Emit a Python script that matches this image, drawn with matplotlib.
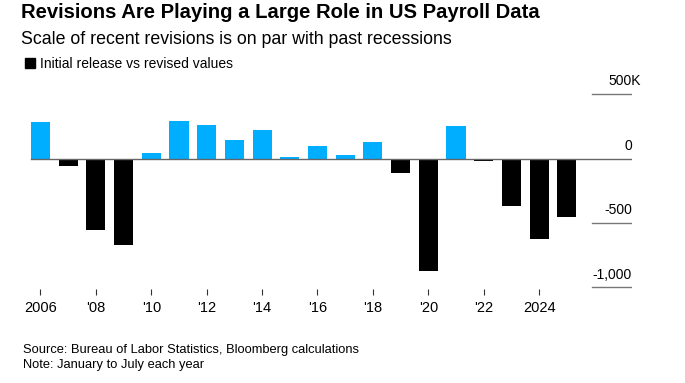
import numpy as np
import matplotlib
matplotlib.use('Agg')
import matplotlib.pyplot as plt
from matplotlib.patches import Rectangle
import matplotlib.transforms as mtransforms

plt.rcParams['font.family'] = ['Liberation Sans', 'DejaVu Sans']

# Initial release vs revised values, January to July, thousands of jobs
years = np.arange(2006, 2026)
revisions = [280, -60, -556, -672, 39, 289, 256, 142, 219, 10,
             95, 26, 126, -116, -873, 250, -21, -367, -626, -457]

tick_years = [2006, 2008, 2010, 2012, 2014, 2016, 2018, 2020, 2022, 2024]
tick_labels = ['2006', "'08", "'10", "'12", "'14", "'16", "'18", "'20", "'22", '2024']
y_ticks = [500, 0, -500, -1000]
y_labels = ['500K', '0', '-500', '-1,000']

BLUE = '#00aeff'
W, H = 685, 383

fig = plt.figure(figsize=(W / 100, H / 100), dpi=100)
# axes placed in pixel terms: left 20, right 632, top 85, bottom 288.5
ax = fig.add_axes([20 / W, 1 - 288.5 / H, 612 / W, (288.5 - 85) / H])

colors = [BLUE if v >= 0 else 'black' for v in revisions]
ax.bar(years, revisions, width=0.69, color=colors, zorder=2)

ax.set_xlim(2005.26, 2027.354)
ax.set_ylim(-1008, 570)

for s in ax.spines.values():
    s.set_visible(False)

ax.set_xticks(tick_years)
ax.set_xticklabels(tick_labels, fontsize=10.5, color='black')
ax.tick_params(axis='x', length=4, width=0.8, color='#333333', pad=5)
ax.set_yticks([])

# zero line across the chart, short gridlines at the right for the others
ax.axhline(0, xmin=0.018, xmax=1, color='#666666', lw=1.0, zorder=3)
for v in y_ticks:
    if v != 0:
        ax.axhline(v, xmin=0.935, xmax=1, color='#777777', lw=1.0, zorder=1)

trans = mtransforms.blended_transform_factory(ax.transAxes, ax.transData)
for v, lab in zip(y_ticks, y_labels):
    dx = 6.5 if lab.endswith('K') else 0
    ax.annotate(lab, xy=(1.0, v), xycoords=trans, xytext=(dx, 6.3),
                textcoords='offset points', ha='right', va='baseline',
                fontsize=10, color='black')

fig.text(21 / W, 1 - 18.5 / H, 'Revisions Are Playing a Large Role in US Payroll Data',
         fontsize=14.6, fontweight='bold', va='baseline', ha='left')
fig.text(21 / W, 1 - 44 / H, 'Scale of recent revisions is on par with past recessions',
         fontsize=12.8, va='baseline', ha='left')
fig.patches.append(Rectangle((25 / W, 1 - 67.7 / H), 10 / W, 9.4 / H,
                             transform=fig.transFigure, color='black'))
fig.text(40.5 / W, 1 - 67.7 / H, 'Initial release vs revised values',
         fontsize=10, va='baseline', ha='left')

fig.text(23 / W, 1 - 353.3 / H, 'Source: Bureau of Labor Statistics, Bloomberg calculations',
         fontsize=9.3, va='baseline', ha='left')
fig.text(23 / W, 1 - 367.7 / H, 'Note: January to July each year',
         fontsize=9.3, va='baseline', ha='left')

fig.savefig('out.png', dpi=100)
